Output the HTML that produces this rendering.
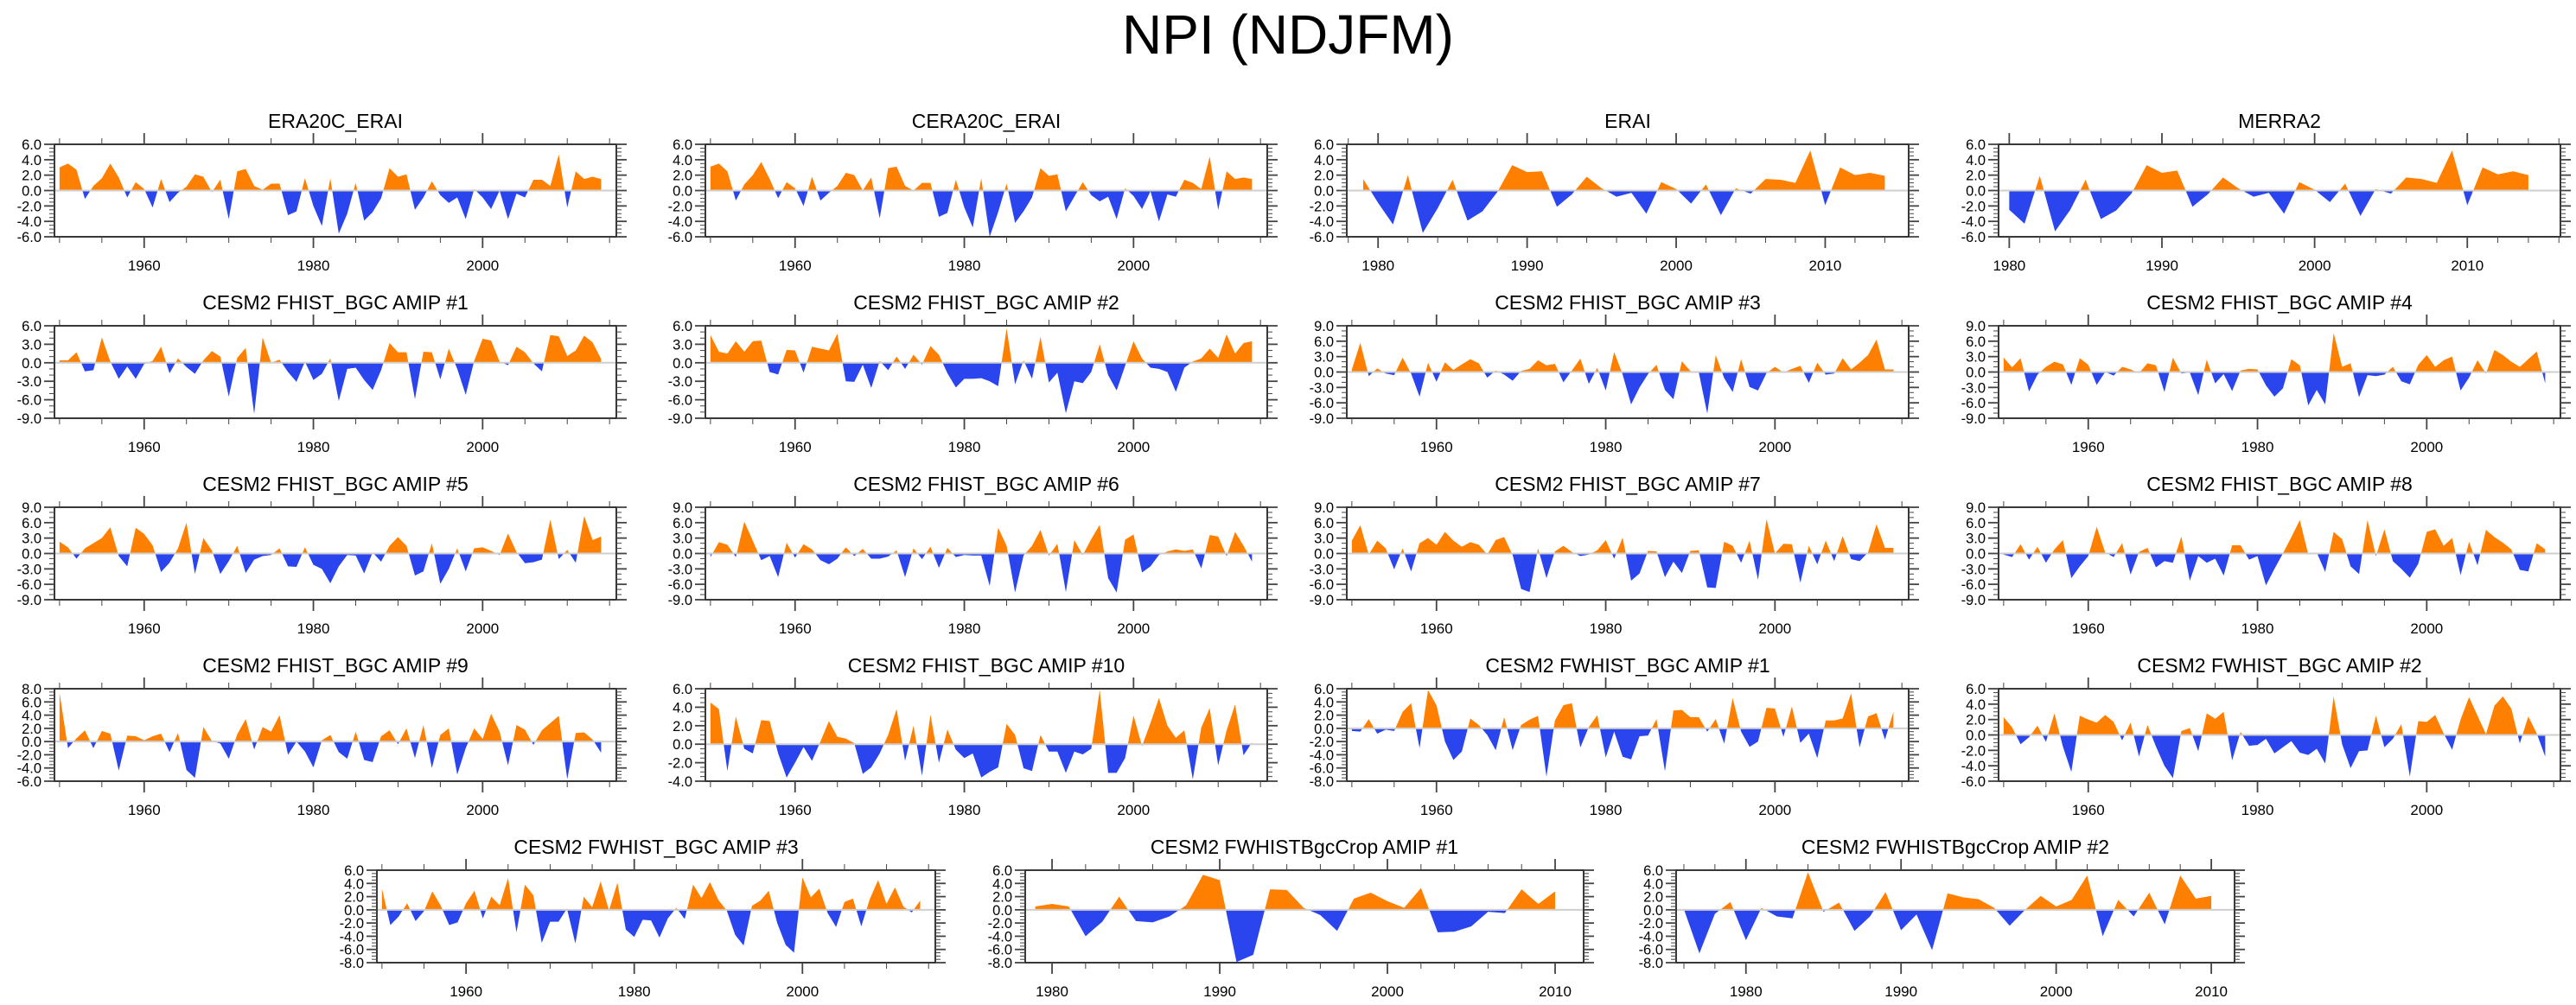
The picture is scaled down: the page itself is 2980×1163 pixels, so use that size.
<!DOCTYPE html>
<html>
<head>
<meta charset="utf-8">
<style>
html,body{margin:0;padding:0;background:#fff;}
svg{display:block;font-family:"Liberation Sans",Arial,sans-serif;}
</style>
</head>
<body>
<svg id="fig" width="2980" height="1163" viewBox="0 0 2980 1163" xmlns="http://www.w3.org/2000/svg">
<rect x="0" y="0" width="2980" height="1163" fill="#fff"/>
<text x="1490" y="62" font-size="64" text-anchor="middle" fill="#000">NPI (NDJFM)</text>
</svg>
<script>
// ---- data ----
const titles = ["ERA20C_ERAI","CERA20C_ERAI","ERAI","MERRA2",
"CESM2 FHIST_BGC AMIP #1","CESM2 FHIST_BGC AMIP #2","CESM2 FHIST_BGC AMIP #3","CESM2 FHIST_BGC AMIP #4",
"CESM2 FHIST_BGC AMIP #5","CESM2 FHIST_BGC AMIP #6","CESM2 FHIST_BGC AMIP #7","CESM2 FHIST_BGC AMIP #8",
"CESM2 FHIST_BGC AMIP #9","CESM2 FHIST_BGC AMIP #10","CESM2 FWHIST_BGC AMIP #1","CESM2 FWHIST_BGC AMIP #2",
"CESM2 FWHIST_BGC AMIP #3","CESM2 FWHISTBgcCrop AMIP #1","CESM2 FWHISTBgcCrop AMIP #2"];
const startYears = [1950,1950,1979,1980, 1950,1950,1950,1950, 1950,1950,1950,1950, 1950,1950,1950,1950, 1950,1979,1976];
const yMins = [-6,-6,-6,-6, -9,-9,-9,-9, -9,-9,-9,-9, -6,-4,-8,-6, -8,-8,-8];
const yMaxs = [6,6,6,6, 6,6,9,9, 9,9,9,9, 8,6,6,6, 6,6,6];
const ySteps = [2,2,2,2, 3,3,3,3, 3,3,3,3, 2,2,2,2, 2,2,2];
const xMins = [1949.4,1949.4,1977.9,1979.3, 1949.4,1949.4,1949.4,1949.4, 1949.4,1949.4,1949.4,1949.4, 1949.4,1949.4,1949.4,1949.4, 1949.4,1978.4,1975.5];
const xMaxs = [2015.8,2015.8,2015.6,2016.1, 2015.8,2015.8,2015.8,2015.8, 2015.8,2015.8,2015.8,2015.8, 2015.8,2015.8,2015.8,2015.8, 2015.8,2011.7,2011.5];

const vEra20c = [3.0,3.5,2.7,-1.1,0.6,1.6,3.5,1.7,-0.9,1.1, 0.2,-2.2,1.5,-1.5,-0.3,0.5,2.1,1.8,-0.2,1.4, -3.7,2.5,2.8,0.6,0.1,0.9,0.9,-3.2,-2.7,1.6, -2.0,-4.6,1.6,-5.6,-3.0,1.0,-3.9,-2.8,-1.0,2.9, 1.8,2.1,-2.5,-0.9,1.2,-0.6,-1.6,-0.9,-3.7,0.2, -0.9,-2.4,0.0,-3.7,-0.4,-0.9,1.4,1.4,0.6,4.7, -2.2,2.5,1.5,1.8,1.5];
const vCera20c = [3.1,3.5,2.5,-1.3,0.8,2.0,3.7,1.5,-1.0,1.1, 0.3,-2.0,1.8,-1.3,-0.3,0.6,2.3,2.0,0.0,1.7, -3.6,2.9,3.1,0.6,0.0,1.0,1.0,-3.4,-2.9,1.4, -2.2,-4.8,1.6,-6.0,-2.8,0.9,-4.2,-2.7,-0.9,2.9, 1.9,2.1,-2.7,-0.8,1.1,-0.6,-1.4,-0.8,-3.7,0.3, -0.7,-2.4,-0.1,-4.0,-0.5,-0.8,1.4,1.0,0.2,4.4, -2.5,2.5,1.5,1.7,1.5];
const vErai = [1.5,-1.6,-4.4,2.0,-5.5,-2.3,1.4,-3.9,-2.7,-0.2, 3.3,2.4,2.5,-2.1,-0.5,1.8,0.3,-0.8,-0.3,-3.0, 1.1,0.2,-1.7,0.8,-3.2,0.3,-0.4,1.5,1.4,1.0, 5.2,-1.9,3.0,2.0,2.3,1.9];
const vMerra2 = [-2.5,-4.3,1.9,-5.3,-2.5,1.4,-3.7,-2.6,-0.4, 3.3,2.3,2.6,-2.1,-0.5,1.7,0.3,-0.8,-0.3,-3.0, 1.1,0.1,-1.5,0.9,-3.3,0.2,-0.4,1.7,1.5,1.0, 5.2,-1.9,3.0,2.1,2.5,2.0];
const vF1 = [0.4,0.4,1.7,-1.4,-1.2,4.1,0.2,-2.6,-0.6,-2.6, -0.2,0.3,2.6,-1.7,0.7,-0.7,-1.8,0.4,1.9,1.0, -5.5,0.8,2.4,-8.3,4.1,0.0,0.5,-1.5,-3.1,0.2, -2.8,-1.8,0.7,-6.2,-1.0,-0.8,-2.8,-4.4,-1.2,3.2, 1.7,1.7,-5.9,1.8,1.7,-2.7,2.3,-1.0,-5.2,0.3, 3.9,3.6,0.2,-0.4,2.6,1.7,-0.1,-1.4,4.5,4.3, 1.1,2.0,4.4,3.3,0.6];
const vF2 = [4.5,1.8,1.5,3.5,1.8,3.5,3.6,-1.5,-1.9,2.1, 2.0,-1.6,2.6,2.3,2.0,4.7,-3.0,-3.1,-0.3,-4.1, 0.3,-1.2,1.0,-1.0,1.3,-0.3,2.7,1.3,-1.7,-4.0, -2.6,-2.6,-2.5,-3.0,-3.8,5.6,-3.5,0.4,-2.6,4.2, -3.2,-1.6,-8.2,-3.0,-3.3,-1.5,3.0,-2.0,-4.5,-0.5, 3.5,0.7,-0.8,-1.0,-1.5,-4.7,-0.8,0.2,0.7,2.3, 0.8,4.6,1.5,3.2,3.5];
const vF3 = [0.5,5.7,-0.8,0.7,-0.3,-0.6,2.8,-0.3,-4.8,1.8, -1.9,1.9,0.4,1.5,2.5,1.7,-1.1,0.3,-0.5,-1.7, 0.2,0.6,2.3,1.3,1.6,-2.0,0.3,2.6,-2.3,0.8, -3.6,3.9,-0.5,-6.3,-3.0,-0.4,1.4,-3.5,-5.3,2.1, 0.2,-0.1,-8.1,3.3,-1.2,-3.9,2.5,-2.9,-3.6,-0.2, 1.0,-0.1,0.6,1.2,-2.1,1.8,-0.5,-0.3,2.7,0.5, 1.8,3.3,6.3,0.5,0.5];
const vF4 = [2.8,0.9,2.7,-3.8,-0.5,1.0,2.0,1.5,-2.5,2.7, 1.4,-2.5,0.0,-0.7,1.0,0.5,-0.2,1.7,1.3,-3.9, 2.8,-0.3,-0.1,-4.5,2.4,-2.2,-0.4,-3.7,0.3,0.6, 0.5,-2.6,-4.8,-3.2,2.5,1.3,-6.5,-3.5,-6.3,7.6, 1.0,1.7,-4.9,-0.6,-0.8,-0.5,1.0,-1.8,-2.4,1.4, 3.3,1.0,2.3,3.0,-3.6,-1.1,2.3,-0.3,4.3,3.3, 2.0,1.0,2.5,4.0,-2.2];
const vF5 = [2.3,1.2,-1.0,1.0,2.0,3.0,5.1,-0.5,-2.5,5.0, 3.8,1.6,-3.6,-1.8,1.0,6.0,-4.0,3.0,0.6,-4.0, -1.5,1.5,-3.8,-1.2,-0.5,-0.3,1.0,-2.5,-2.6,1.2, -2.2,-3.0,-5.8,-2.5,-0.3,-0.4,-3.9,0.2,-1.6,1.5, 3.2,1.5,-4.3,-3.5,2.0,-5.9,-3.0,1.0,-3.5,1.0, 1.2,0.5,-0.3,3.9,0.3,-1.9,-1.7,-1.2,6.6,-1.1, 0.7,-1.8,7.3,2.6,3.3];
const vF6 = [-0.7,2.2,1.7,-0.7,6.2,2.5,-1.3,-0.5,-4.6,2.1, -0.8,1.8,0.8,-1.3,-2.1,-1.0,1.2,-0.5,0.9,-1.0, -1.0,-0.6,0.6,-4.6,1.0,-1.1,1.3,-2.8,1.1,-0.7, -0.3,-0.4,-0.4,-6.3,5.0,1.5,-7.6,-0.4,1.5,4.6, -0.4,1.9,-7.5,2.6,-0.3,2.8,5.6,-4.8,-7.6,2.7, 3.7,-3.7,-2.5,-0.3,0.4,0.8,0.5,0.8,-2.9,3.6, 3.3,-0.5,4.2,1.5,-1.6];
const vF7 = [2.5,5.5,-0.2,2.5,1.0,-3.1,1.0,-3.5,2.0,3.0, 1.7,4.2,2.5,1.3,2.2,1.7,-0.2,2.6,3.2,-0.3, -6.9,-7.5,1.0,-4.8,0.4,1.5,0.3,-0.5,-0.2,0.6, 2.6,-1.0,3.1,-5.3,-3.9,0.5,0.4,-4.6,-1.6,-3.8, 0.5,0.6,-6.6,-6.7,2.3,1.5,-1.8,2.5,-5.1,6.7, 0.0,1.9,1.8,-5.7,1.5,-2.1,2.5,-1.5,3.4,-1.1, -1.5,0.2,5.7,1.1,1.1];
const vF8 = [-0.2,-0.7,1.8,-1.2,1.3,-1.8,0.8,2.6,-4.8,-2.5, -0.5,5.2,0.2,-0.7,2.0,-4.1,0.3,1.1,-2.7,-1.5, -1.8,3.3,-5.3,-0.5,-1.8,-1.0,-4.3,1.6,1.6,-1.2, -0.5,-6.2,-3.0,0.0,3.2,6.5,-0.2,0.2,-3.6,4.2, 2.8,-2.5,-4.0,6.5,-0.5,4.7,-1.5,-3.0,-4.7,-2.0, 4.2,4.7,1.5,3.0,-4.2,2.3,-2.3,4.6,3.2,2.1, 0.8,-3.2,-3.5,2.0,0.8];
const vF9 = [7.4,-1.0,0.5,1.7,-1.0,1.6,1.2,-4.4,0.9,0.8, 0.2,0.8,1.2,-1.6,1.3,-4.3,-5.5,2.2,0.1,-0.3, -2.6,1.1,3.4,-1.2,2.2,1.5,4.0,-2.0,0.0,-1.5, -3.9,0.2,1.0,-1.6,-2.6,1.5,-2.8,-3.1,0.8,1.7, -0.4,2.0,-2.5,2.5,-4.0,1.0,2.0,-5.0,-1.0,2.0, 0.4,4.2,1.5,-3.6,2.5,1.8,-0.5,1.7,2.8,3.9, -5.7,1.3,1.4,0.3,-1.7];
const vF10 = [4.5,3.8,-2.9,3.0,-0.5,-1.0,2.6,2.5,-1.0,-3.6, -2.0,-0.3,-1.8,0.3,2.5,0.8,0.6,0.1,-3.2,-2.5, -1.0,1.0,3.8,-1.8,2.0,-3.4,3.2,-2.0,1.6,-0.6, -1.5,-1.0,-3.6,-3.0,-2.5,2.2,1.0,-2.6,-2.9,1.0, -0.8,-0.8,-3.1,-0.8,-1.1,-0.5,5.9,-3.1,-3.1,-1.5, 3.1,-0.2,2.3,5.0,2.0,0.7,1.5,-3.8,1.8,3.9, -2.3,1.5,4.3,-1.2,0.2];
const vW1 = [-0.4,-0.5,1.4,-0.8,-0.2,-0.4,2.5,3.8,-3.0,5.8, 3.5,-2.0,-4.8,-3.5,1.5,0.5,-1.0,-3.3,1.7,-3.3, 0.5,1.3,1.9,-7.3,1.2,3.5,3.8,-2.9,0.2,2.0, -4.4,-0.5,-4.3,-4.7,-1.2,-1.1,1.4,-6.5,2.7,2.8, 1.7,1.7,-0.5,1.4,-2.3,4.6,-0.5,-2.8,-2.0,3.1, 3.0,-1.3,3.3,-2.2,-0.8,-4.5,1.2,1.2,1.5,5.3, -2.9,1.8,2.3,-1.7,2.5];
const vW2 = [2.3,1.0,-1.2,-0.3,1.2,-0.9,2.8,-1.5,-4.8,2.5, 2.0,1.6,2.6,1.7,-0.7,1.6,-2.8,1.3,-1.5,-4.0, -5.6,0.5,0.9,-2.1,2.8,2.1,3.0,-3.3,0.4,-1.4, -1.3,-0.5,-2.4,-1.6,-0.8,-2.3,-2.6,-1.8,-3.7,5.0, -1.2,-4.3,-2.1,-2.0,2.5,-1.6,-0.5,1.4,-5.4,1.8, 1.7,2.6,0.2,-1.9,2.0,4.9,2.5,0.1,3.8,5.0, 3.4,-1.1,2.4,0.2,-2.8];
const vW3 = [3.2,-2.3,-1.0,1.0,-1.7,-0.2,2.8,0.6,-2.3,-1.9, 1.0,2.9,-1.3,2.0,0.7,4.8,-3.4,3.8,2.2,-5.0, -1.8,-1.8,0.2,-5.1,2.0,0.4,4.3,-0.1,4.1,-3.0, -4.1,-1.5,-1.6,-4.2,-1.3,0.3,-1.4,3.8,1.8,4.2, 1.5,-0.1,-3.8,-5.4,0.6,1.4,2.9,-2.0,-5.3,-6.5, 4.9,1.9,3.2,-0.5,-2.6,1.2,1.7,-2.5,1.6,4.5, 0.9,3.4,0.5,-0.4,1.4];
const vC1 = [0.5,0.9,0.5,-4.0,-1.8,2.0,-1.7,-1.9,-1.0,0.7, 5.3,4.5,-7.9,-6.8,3.1,3.0,0.3,-0.8,-3.2,1.7, 2.6,1.3,0.3,3.3,-3.4,-3.3,-2.5,-0.3,-0.5,3.1, 0.9,2.8];
const vC2 = [0.1,-6.6,-0.6,1.2,-4.6,0.3,-1.0,-1.3,5.7,-0.3, 1.1,-3.2,-1.0,2.7,-3.1,-0.7,-6.1,2.5,1.9,1.6, 0.3,-2.4,0.0,2.1,0.5,1.5,5.2,-4.0,1.5,-1.0, 2.6,-2.2,5.2,1.7,2.1];
const seriesList = [vEra20c,vCera20c,vErai,vMerra2,vF1,vF2,vF3,vF4,vF5,vF6,vF7,vF8,vF9,vF10,vW1,vW2,vW3,vC1,vC2];

// ---- layout ----
const colLefts4 = [63,816,1558,2312];
const colLefts3 = [436,1186,1939];
const NS = "http://www.w3.org/2000/svg";
const svg = document.getElementById('fig');
function mk(tag, attrs, parent){
  const e = document.createElementNS(NS, tag);
  for (const k in attrs) e.setAttribute(k, attrs[k]);
  (parent||svg).appendChild(e);
  return e;
}
function slug(s){return s.toLowerCase().replace(/[^a-z0-9]+/g,'-').replace(/^-|-$/g,'');}

for (let p=0; p<titles.length; p++){
  const row = p<16 ? Math.floor(p/4) : 4;
  const left = p<16 ? colLefts4[p%4] : colLefts3[p-16];
  const width = p<16 ? 650 : 646;
  const top = 167 + 210*row, h = 107, bottom = top+h;
  const xmin = xMins[p], xmax = xMaxs[p], ymin = yMins[p], ymax = yMaxs[p], step = ySteps[p];
  const X = yr => left + (yr - xmin)/(xmax - xmin)*width;
  const Y = v => bottom - (v - ymin)/(ymax - ymin)*h;
  const g = mk('g', {});
  
  

  const t = mk('text', {x: left+width/2, y: top-19, 'font-size': 23, 'text-anchor':'middle', fill:'#000'}, g);
  
  
  t.textContent = titles[p];

  const cid = 'c'+p;
  const defs = mk('defs', {}, g);
  const cpA = mk('clipPath', {id: cid+'a'}, defs);
  mk('rect', {x:left, y:top, width:width, height: Y(0)-top}, cpA);
  const cpB = mk('clipPath', {id: cid+'b'}, defs);
  mk('rect', {x:left, y:Y(0), width:width, height: bottom-Y(0)}, cpB);

  const vals = seriesList[p], y0 = startYears[p];
  let pts = X(y0).toFixed(2)+','+Y(0).toFixed(2)+' ';
  for (let i=0;i<vals.length;i++) pts += X(y0+i).toFixed(2)+','+Y(vals[i]).toFixed(2)+' ';
  pts += X(y0+vals.length-1).toFixed(2)+','+Y(0).toFixed(2);
  const pa = mk('polygon', {points: pts, fill:'#ff8000', 'clip-path':'url(#'+cid+'a)'}, g);
  
  
  const pb = mk('polygon', {points: pts, fill:'#2a45ee', 'clip-path':'url(#'+cid+'b)'}, g);
  
  

  const zl = mk('line', {x1:left, x2:left+width, y1:Y(0), y2:Y(0), stroke:'#cfcfcf', 'stroke-width':2}, g);
  
  

  const box = mk('rect', {x:left, y:top, width:width, height:h, fill:'none', stroke:'#222', 'stroke-width':1.8}, g);
  
  

  const minorN = step===2 ? 4 : 3;
  for (let v=ymin; v<=ymax+1e-9; v+=step/minorN){
    const major = Math.abs(Math.round(v/step)*step - v) < 1e-6;
    const L = major ? 12 : 6;
    mk('line', {x1:left-L, x2:left, y1:Y(v), y2:Y(v), stroke:'#444', 'stroke-width':major?1.8:1}, g);
    mk('line', {x1:left+width, x2:left+width+L, y1:Y(v), y2:Y(v), stroke:'#444', 'stroke-width':major?1.8:1}, g);
  }
  for (let v=ymin; v<=ymax+1e-9; v+=step){
    const yl = mk('text', {x:left-15, y:Y(v)+6, 'font-size':16.5, 'text-anchor':'end', fill:'#000'}, g);
    
    
    yl.textContent = v.toFixed(1);
  }
  const long = (xmax - xmin) > 50;
  const minorStep = long ? 5 : 2, majorStep = long ? 20 : 10;
  for (let yr = Math.ceil(xmin/minorStep)*minorStep; yr <= xmax; yr += minorStep){
    const major = yr % majorStep === 0;
    const L = major ? 13 : 7;
    const xx = X(yr);
    mk('line', {x1:xx, x2:xx, y1:top-L, y2:top, stroke:'#444', 'stroke-width':major?1.8:1}, g);
    mk('line', {x1:xx, x2:xx, y1:bottom, y2:bottom+L, stroke:'#444', 'stroke-width':major?1.8:1}, g);
    if (major){
      const xl = mk('text', {x:xx, y:bottom+39, 'font-size':17, 'text-anchor':'middle', fill:'#000'}, g);
      
      
      xl.textContent = String(yr);
    }
  }
}
</script>
</body>
</html>
